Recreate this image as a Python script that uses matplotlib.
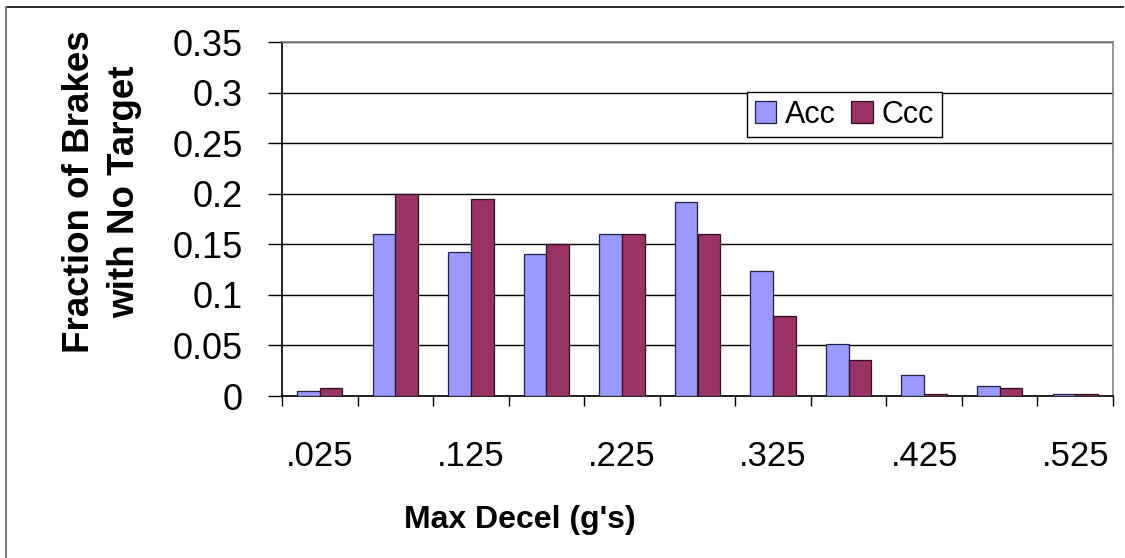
import numpy as np
import matplotlib
matplotlib.use('Agg')
import matplotlib.pyplot as plt
from matplotlib import font_manager
from matplotlib.lines import Line2D

# Data
categories = ['.025', '.075', '.125', '.175', '.225', '.275', '.325', '.375', '.425', '.475', '.525']
acc = [0.005, 0.16, 0.142, 0.14, 0.16, 0.192, 0.124, 0.051, 0.021, 0.01, 0.002]
ccc = [0.008, 0.2, 0.195, 0.15, 0.16, 0.16, 0.079, 0.036, 0.002, 0.008, 0.002]
series_names = ['Acc', 'Ccc']
yticks = [0, 0.05, 0.1, 0.15, 0.2, 0.25, 0.3, 0.35]
ytick_labels = ['0', '0.05', '0.1', '0.15', '0.2', '0.25', '0.3', '0.35']

plt.rcParams['font.family'] = ['Liberation Sans', 'DejaVu Sans']

# narrow font for the squeezed x-axis texts, if installed
names = {f.name for f in font_manager.fontManager.ttflist}
narrow = 'Liberation Sans Narrow' if 'Liberation Sans Narrow' in names else 'Liberation Sans'

W, H = 1125, 558
fig = plt.figure(figsize=(W / 100, H / 100), dpi=100)

# axes box in pixels: left 282, right 1113, top 42, bottom 396
ax = fig.add_axes([282 / W, 1 - 396 / H, (1113 - 282) / W, (396 - 42) / H])

x = np.arange(len(categories))
w = 0.3
ax.bar(x - w / 2, acc, w, color='#9999FF', edgecolor='#202040', linewidth=0.9, label=series_names[0], zorder=3)
ax.bar(x + w / 2, ccc, w, color='#993366', edgecolor='#301020', linewidth=0.9, label=series_names[1], zorder=3)

ax.set_xlim(-0.5, len(categories) - 0.5)
ax.set_ylim(0, 0.35)

ax.set_yticks(yticks)
ax.set_yticklabels(ytick_labels)
ax.tick_params(axis='y', direction='out', length=10, width=1, pad=18, labelsize=26, color='black')
ax.yaxis.grid(True, color='black', linewidth=1, zorder=0)
ax.set_axisbelow(True)

# tick marks between categories, labels on every other category
ax.set_xticks(np.arange(-0.5, len(categories)), minor=True)
ax.set_xticks(x[::2])
ax.set_xticklabels(categories[::2], fontfamily=narrow)
ax.tick_params(axis='x', which='minor', direction='out', length=7.5, width=1, color='black')
ax.tick_params(axis='x', which='major', length=0, pad=32, labelsize=25)

for s in ['top', 'right']:
    ax.spines[s].set_color('#808080')
    ax.spines[s].set_linewidth(1.2)
for s in ['left', 'bottom']:
    ax.spines[s].set_color('black')
    ax.spines[s].set_linewidth(1.2)

leg = ax.legend(loc='upper left', bbox_to_anchor=(0.5596, 0.8588), borderaxespad=0, ncol=2,
                fontsize=22, handlelength=0.7, handleheight=0.7, handletextpad=0.3,
                columnspacing=0.5, borderpad=0.25, fancybox=False, framealpha=1)
leg.get_frame().set_edgecolor('black')
leg.get_frame().set_linewidth(1)

fig.text(520 / W, 1 - 520 / H, "Max Decel (g's)", ha='center', va='center',
         fontsize=23, fontweight='bold', fontfamily=narrow)
fig.text(102 / W, 1 - 192 / H, 'Fraction of Brakes\nwith No Target', ha='center', va='center',
         rotation=90, fontsize=26.5, fontweight='bold', linespacing=1.4)

# chart-area border (top and left visible)
fig.add_artist(Line2D([6 / W, 1123 / W], [1 - 7 / H, 1 - 7 / H], color='black', linewidth=1.2))
fig.add_artist(Line2D([6 / W, 6 / W], [1 - 7 / H, 0], color='#808080', linewidth=1.5))

fig.savefig('out.png', dpi=100)
